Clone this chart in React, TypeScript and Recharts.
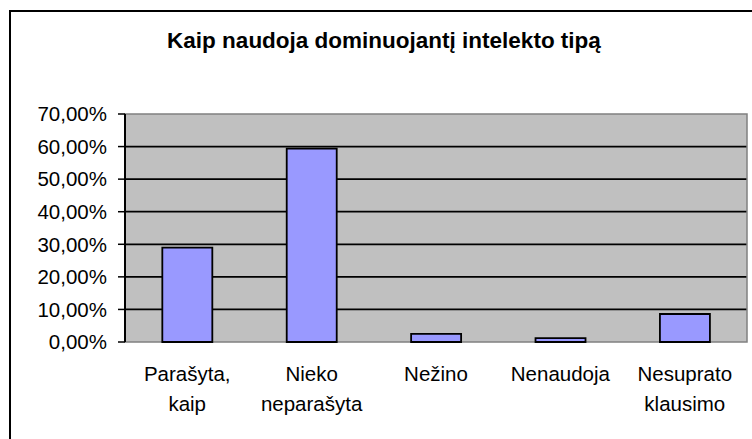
import React from "react";
import { BarChart, Bar, XAxis, YAxis, CartesianGrid, ReferenceArea } from "recharts";

const title = "Kaip naudoja dominuojantį  intelekto tipą";
const categories = ["Parašyta,\nkaip", "Nieko\nneparašyta", "Nežino", "Nenaudoja", "Nesuprato\nklausimo"];
const values = [29.0, 59.4, 2.5, 1.2, 8.6];
const yTicks = [0, 10, 20, 30, 40, 50, 60, 70];
const gridValues = [10, 20, 30, 40, 50, 60];
const boundaryTicks = [0, 1, 2, 3, 4, 5];

const data = categories.map((c, i) => ({ name: c, value: values[i] }));

const FONT = "'Liberation Sans', Arial, sans-serif";

const fmtPct = (v: number) => v.toFixed(2).replace(".", ",") + "%";

const CatTick = (props: any) => {
  const { x, y, payload } = props;
  const lines = String(payload.value).split("\n");
  return (
    <g>
      {lines.map((l, i) => (
        <text
          key={i}
          x={x}
          y={y + 31 + i * 30}
          textAnchor="middle"
          fontFamily={FONT}
          fontSize={20.5}
          fill="#000"
        >
          {l}
        </text>
      ))}
    </g>
  );
};

export default function App() {
  return (
    <div style={{ position: "absolute", left: 0, top: 0, width: 752, height: 439, overflow: "hidden", background: "#fff" }}>
      <div
        style={{
          position: "absolute",
          left: 9,
          top: 10,
          width: 800,
          height: 500,
          border: "2px solid #000",
          boxSizing: "border-box",
        }}
      />
      <svg width={752} height={439} style={{ position: "absolute", left: 0, top: 0 }}>
        <text x={384} y={48} textAnchor="middle" fontFamily={FONT} fontWeight="bold" fontSize={22.5} fill="#000">
          {title}
        </text>
      </svg>
      <div style={{ position: "absolute", left: 0, top: 0 }}>
        <BarChart
          width={752}
          height={439}
          data={data}
          margin={{ top: 114, right: 5, bottom: 0, left: 0 }}
          barCategoryGap="30%"
        >
          <CartesianGrid
            vertical={false}
            horizontalValues={gridValues}
            stroke="#000"
            strokeWidth={1.8}
            fill="#C0C0C0"
            fillOpacity={1}
          />
          <ReferenceArea y1={0} y2={70} fill="none" stroke="#808080" strokeWidth={1.5} />
          <XAxis
            xAxisId="bounds"
            type="number"
            dataKey={() => 0}
            domain={[0, 5]}
            ticks={boundaryTicks}
            tickFormatter={() => ""}
            height={0}
            tickSize={6}
            axisLine={{ stroke: "#000", strokeWidth: 2 }}
            tickLine={{ stroke: "#000", strokeWidth: 1.5 }}
            allowDataOverflow
          />
          <XAxis
            dataKey="name"
            height={97}
            axisLine={false}
            tickLine={false}
            tick={<CatTick />}
            interval={0}
          />
          <YAxis
            width={125}
            domain={[0, 70]}
            ticks={yTicks}
            tickFormatter={fmtPct}
            tickSize={7}
            tickMargin={11}
            axisLine={{ stroke: "#000", strokeWidth: 2 }}
            tickLine={{ stroke: "#000", strokeWidth: 1.5 }}
            tick={{ fill: "#000", fontFamily: FONT, fontSize: 20.5 }}
            interval={0}
          />
          <Bar dataKey="value" fill="#9999FF" stroke="#000" strokeWidth={1.8} isAnimationActive={false} />
        </BarChart>
      </div>
    </div>
  );
}
